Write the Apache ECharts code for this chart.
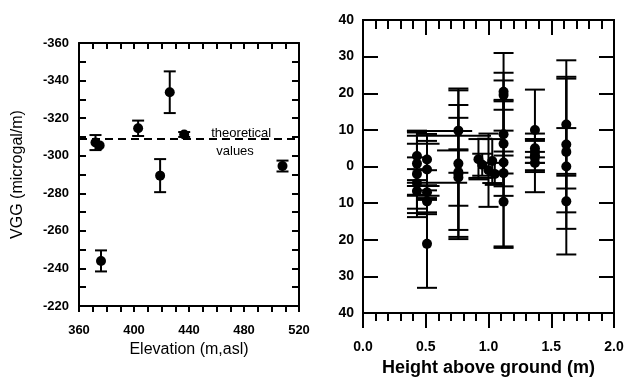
<!DOCTYPE html>
<html><head><meta charset="utf-8">
<script src="https://cdn.jsdelivr.net/npm/echarts@6/dist/echarts.min.js"></script>
<style>html,body{margin:0;padding:0;background:#fff}#c{width:627px;height:382px}</style>
</head><body><div id="c"></div>
<script>
// ---- Left panel data ----
const elevation = [372, 375, 376, 403, 419, 426, 436.5, 508];
const vgg       = [-307, -305.5, -244, -314.6, -289.4, -333.8, -311.3, -294.5];
const vggErr    = [4, 0, 5.6, 4.1, 8.8, 11.1, 1.3, 2.9];
const theoretical = -309;
const theoLabels = ['theoretical', 'values'];

// ---- Right panel data ----
const height = [0.43,0.43,0.43,0.43,0.43, 0.51,0.51,0.51,0.51,0.51,
  0.76,0.76,0.76,0.76,0.76, 0.92,0.95,1.0,1.03,1.05,
  1.12,1.12,1.12,1.12,1.12,1.12,1.12, 1.37,1.37,1.37,1.37,1.37,1.37,
  1.62,1.62,1.62,1.62,1.62];
const deviation = [2.9,0.8,-2,-4.5,-6.7, 1.9,-0.8,-7,-9.5,-21.1,
  9.8,0.8,-1.5,-2,-3, 2,0.5,-1,1.5,-2,
  20.4,19.5,8.8,6.2,1.1,-1.8,-9.6, 10,5,3,1,4,2.5,
  11.5,6,4,0,-9.5];
const devErr = [6.6,8.5,11.8,7,6, 7,7.8,6,3,12,
  11.5,20,18.3,15.3,7.7, 5.5,3,10,6,3,
  10.6,4,16.8,11.6,3,20,12.6, 11,2.5,4.5,8,3,1.5,
  17.5,18.5,6.5,24,7.5];
// horizontal bars: [from height, to height, deviation]
const hFrom = [0.35,0.35,0.91,0.35,0.59,0.84,0.35,0.35,0.35];
const hTo   = [0.87,1.02,1.03,0.61,0.84,1.03,0.83,0.61,0.61];
const hDev  = [9.7,8.4,7.6,6.2,4.4,-3.1,-4.4,-5.3,-8];

const FONT = 'Liberation Sans, Arial, sans-serif';
const leftPts = elevation.map((x,i)=>[x, vgg[i], vggErr[i]]);
const rightPts = height.map((x,i)=>[x, deviation[i], devErr[i]]);
const hBars = hFrom.map((x,i)=>[x, hTo[i], hDev[i]]);

function errRender(cap){
  return function(params, api){
    const x = api.value(0), y = api.value(1), e = api.value(2);
    if (!e) return null;
    const t = api.coord([x, y+e]), b = api.coord([x, y-e]);
    const st = {stroke:'#000', lineWidth:2};
    return {type:'group', children:[
      {type:'line', shape:{x1:t[0],y1:t[1],x2:b[0],y2:b[1]}, style:st},
      {type:'line', shape:{x1:t[0]-cap,y1:t[1],x2:t[0]+cap,y2:t[1]}, style:st},
      {type:'line', shape:{x1:b[0]-cap,y1:b[1],x2:b[0]+cap,y2:b[1]}, style:st}
    ]};
  };
}

const axLine = {show:true, onZero:false, lineStyle:{color:'#000', width:2}};
const tick = (inside, len) => ({inside:inside, length:len, lineStyle:{color:'#000', width:2}});
const lbl = {color:'#000', fontFamily:FONT, fontWeight:'bold', fontSize:12};
const chart = echarts.init(document.getElementById('c'));
chart.setOption({
  animation:false,
  grid:[
    {left:79, top:43, width:220, height:263},
    {left:363, top:20, width:251, height:300}
  ],
  xAxis:[
    {gridIndex:0, type:'value', min:360, max:520, interval:10, position:'bottom',
     axisLine:axLine, splitLine:{show:false}, axisTick:tick(false,6),
     axisLabel:Object.assign({}, lbl, {fontSize:13, margin:18, formatter:v=>v%40===0?String(v):''}),
     name:'Elevation (m,asl)', nameLocation:'middle', nameGap:34,
     nameTextStyle:{color:'#000', fontFamily:FONT, fontSize:16}},
    {gridIndex:0, type:'value', min:360, max:520, interval:10, position:'top',
     axisLine:axLine, splitLine:{show:false}, axisTick:tick(true,6),
     axisLabel:{show:false}},
    {gridIndex:1, type:'value', min:0, max:2, interval:0.1, position:'bottom',
     axisLine:axLine, splitLine:{show:false}, axisTick:tick(false,8),
     axisLabel:{show:false}},
    {gridIndex:1, type:'value', min:0, max:2, interval:0.5, position:'bottom',
     axisLine:axLine, splitLine:{show:false}, axisTick:tick(false,15),
     axisLabel:Object.assign({}, lbl, {fontSize:14, margin:27, formatter:v=>v.toFixed(1)}),
     name:'Height above ground (m)', nameLocation:'middle', nameGap:44,
     nameTextStyle:{color:'#000', fontFamily:FONT, fontSize:18, fontWeight:'bold'}},
    {gridIndex:1, type:'value', min:0, max:2, interval:0.1, position:'top',
     axisLine:axLine, splitLine:{show:false}, axisTick:tick(true,9),
     axisLabel:{show:false}},
    {gridIndex:1, type:'value', min:0, max:2, interval:0.5, position:'top',
     axisLine:axLine, splitLine:{show:false}, axisTick:tick(true,15),
     axisLabel:{show:false}}
  ],
  yAxis:[
    {gridIndex:0, type:'value', min:-360, max:-220, interval:10, inverse:true, position:'left',
     axisLine:axLine, splitLine:{show:false}, axisTick:tick(true,7),
     axisLabel:Object.assign({}, lbl, {fontSize:13, margin:10, formatter:v=>v%20===0?String(v):''}),
     name:'VGG (microgal/m)', nameLocation:'middle', nameGap:53,
     nameTextStyle:{color:'#000', fontFamily:FONT, fontSize:16}},
    {gridIndex:0, type:'value', min:-360, max:-220, interval:10, inverse:true, position:'right',
     axisLine:axLine, splitLine:{show:false}, axisTick:tick(true,7),
     axisLabel:{show:false}},
    {gridIndex:1, type:'value', min:-40, max:40, interval:10, position:'left',
     axisLine:axLine, splitLine:{show:false}, axisTick:tick(true,15),
     axisLabel:Object.assign({}, lbl, {fontSize:14, margin:9, formatter:v=>String(Math.abs(v))})},
    {gridIndex:1, type:'value', min:-40, max:40, interval:10, position:'right',
     axisLine:axLine, splitLine:{show:false}, axisTick:tick(true,15),
     axisLabel:{show:false}}
  ],
  series:[
    {type:'custom', xAxisIndex:0, yAxisIndex:0, renderItem:errRender(6), data:leftPts, z:3},
    {type:'scatter', xAxisIndex:0, yAxisIndex:0, symbolSize:10, itemStyle:{color:'#000', opacity:1},
     data:leftPts.map(p=>[p[0],p[1]]), z:4,
     markLine:{silent:true, symbol:'none', label:{show:false},
       lineStyle:{color:'#000', width:2, type:[8,5]}, data:[{yAxis:theoretical}]}},
    {type:'scatter', xAxisIndex:0, yAxisIndex:0, symbolSize:0, itemStyle:{opacity:1},
     data:[[478, -312, theoLabels[0]], [473.5, -302.5, theoLabels[1]]],
     label:{show:true, position:'inside', formatter:p=>p.data[2], color:'#000', opacity:1,
       fontFamily:FONT, fontSize:13}},
    {type:'custom', xAxisIndex:2, yAxisIndex:2, renderItem:function(params, api){
       const a = api.coord([api.value(0), api.value(2)]), b = api.coord([api.value(1), api.value(2)]);
       return {type:'line', shape:{x1:a[0],y1:a[1],x2:b[0],y2:b[1]}, style:{stroke:'#000', lineWidth:2}};
     }, encode:{x:[0,1], y:2}, data:hBars, z:2},
    {type:'custom', xAxisIndex:2, yAxisIndex:2, renderItem:errRender(10), data:rightPts, z:3},
    {type:'scatter', xAxisIndex:2, yAxisIndex:2, symbolSize:10, itemStyle:{color:'#000', opacity:1},
     data:rightPts.map(p=>[p[0],p[1]]), z:4}
  ]
});
</script></body></html>
